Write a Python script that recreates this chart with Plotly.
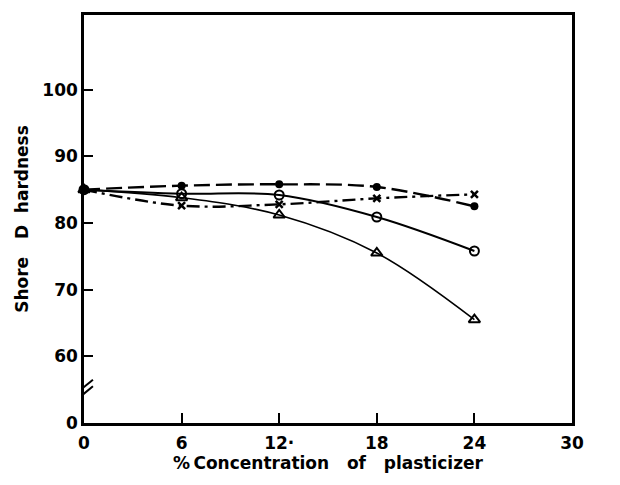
import plotly.graph_objects as go

# Data
conc = [0, 6, 12, 18, 24]
filled_circle = [85.0, 85.6, 85.8, 85.4, 82.5]
cross = [85.0, 82.6, 82.8, 83.7, 84.3]
open_circle = [85.0, 84.4, 84.2, 80.9, 75.8]
triangle = [85.0, 83.8, 81.2, 75.5, 65.5]

x_ticks = [0, 6, 12, 18, 24, 30]
x_ticktext = ["0", "6", "12·", "18", "24", "30"]
# broken y-axis: the "0" label sits where 50 would be
y_ticks = [50, 60, 70, 80, 90, 100]
y_ticktext = ["0", "60", "70", "80", "90", "100"]

FONT = "DejaVu Sans"

fig = go.Figure()

fig.add_trace(go.Scatter(
    x=conc, y=filled_circle, mode="lines+markers", line_shape="spline",
    line=dict(color="black", width=2.4, dash="16px,6px"),
    marker=dict(symbol="circle", size=8, color="black"), cliponaxis=False))
fig.add_trace(go.Scatter(
    x=conc, y=cross, mode="lines+markers", line_shape="spline",
    line=dict(color="black", width=2.4, dash="13px,5px,3px,5px"),
    marker=dict(symbol="x-thin", size=7, color="black", line=dict(width=2.5, color="black")),
    cliponaxis=False))
fig.add_trace(go.Scatter(
    x=conc, y=open_circle, mode="lines+markers", line_shape="spline",
    line=dict(color="black", width=2),
    marker=dict(symbol="circle-open", size=9, color="black", line=dict(width=2, color="black")),
    cliponaxis=False))
fig.add_trace(go.Scatter(
    x=conc, y=triangle, mode="lines+markers", line_shape="spline",
    line=dict(color="black", width=1.6),
    marker=dict(symbol="triangle-up-open", size=10, color="black", line=dict(width=2, color="black")),
    cliponaxis=False))

# axis-break marks
for dy in (0, 1.0):
    fig.add_shape(type="line", xref="x", yref="y",
                  x0=-0.55, x1=0.55, y0=53.3 + dy, y1=55.5 + dy,
                  line=dict(color="black", width=2))

tick_font = dict(family=FONT, size=17, weight="bold", color="black")
title_font = dict(family=FONT, size=17, weight="bold", color="black")

fig.update_layout(
    width=620, height=485,
    margin=dict(l=84, r=48, t=12, b=62),
    paper_bgcolor="white", plot_bgcolor="white",
    showlegend=False,
    font=dict(family=FONT, color="black", size=16),
    xaxis=dict(range=[0, 30], tickvals=x_ticks, ticktext=x_ticktext,
               showline=True, linecolor="black", linewidth=2.5, mirror=True,
               ticks="inside", ticklen=10, tickwidth=1.5, tickcolor="black",
               showgrid=False, zeroline=False, ticklabelstandoff=3,
               tickfont=tick_font,
               title=dict(text="%\u2009Concentration   of   plasticizer",
                          font=title_font, standoff=5)),
    yaxis=dict(range=[50, 111.2], tickvals=y_ticks, ticktext=y_ticktext,
               showline=True, linecolor="black", linewidth=2.5, mirror=True,
               ticks="inside", ticklen=9, tickwidth=2, tickcolor="black",
               showgrid=False, zeroline=False,
               tickfont=tick_font,
               title=dict(text="Shore   D  hardness",
                          font=title_font, standoff=10)),
)

fig.write_html("out.html")
